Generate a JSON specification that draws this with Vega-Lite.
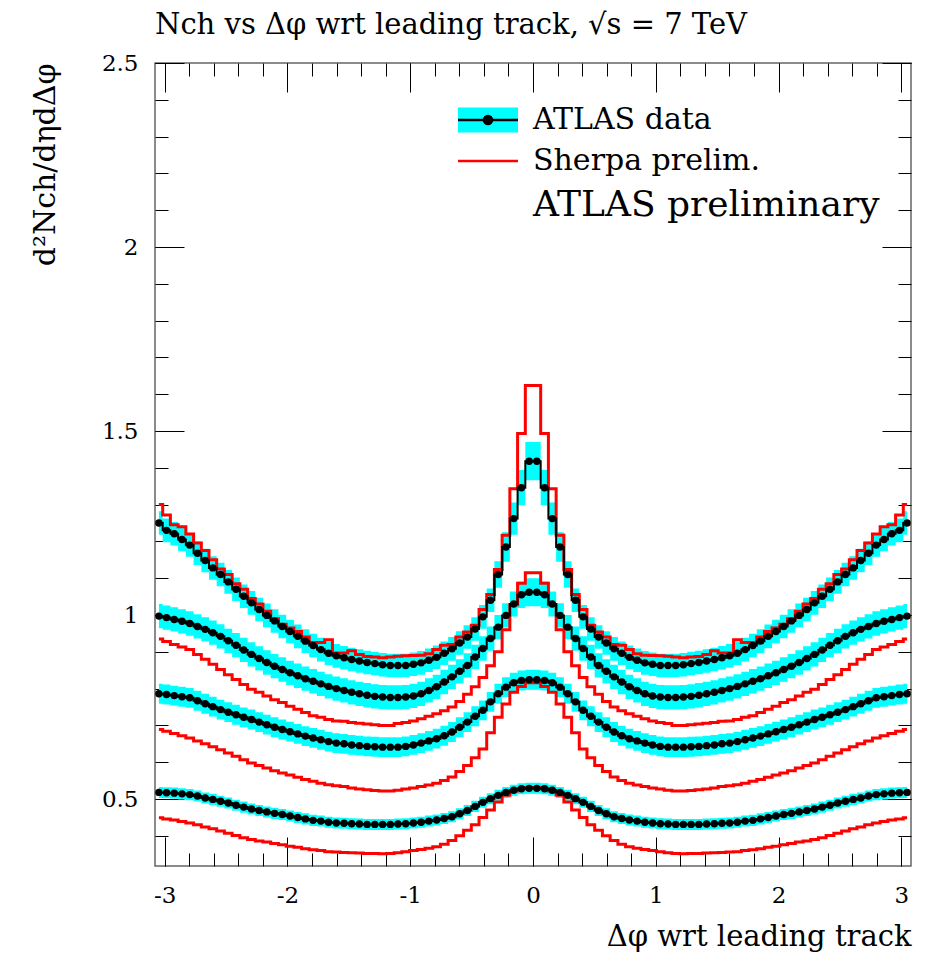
{
"$schema": "https://vega.github.io/schema/vega-lite/v6.json",
"width": 756, "height": 803,
"autosize": {"type": "none"},
"padding": {"left": 155, "top": 63, "right": 24, "bottom": 88},
"title": {"text": "Nch vs Δφ wrt leading track, √s = 7 TeV", "anchor": "start", "frame": "group", "font": "DejaVu Serif", "fontSize": 29, "fontWeight": "normal", "color": "black", "baseline": "alphabetic", "offset": 25, "dy": 36},
"data": {"values": [
{"x":-3.047,"d1":1.25,"d2":0.997,"d3":0.786,"d4":0.518,"s1":1.3,"s2":0.935,"s3":0.689,"s4":0.449,"e1":0.032,"e2":0.033,"e3":0.027,"e4":0.015},
{"x":-2.985,"d1":1.23,"d2":0.993,"d3":0.784,"d4":0.517,"s1":1.272,"s2":0.928,"s3":0.684,"s4":0.446,"e1":0.032,"e2":0.033,"e3":0.027,"e4":0.015},
{"x":-2.922,"d1":1.221,"d2":0.988,"d3":0.781,"d4":0.516,"s1":1.245,"s2":0.92,"s3":0.678,"s4":0.443,"e1":0.032,"e2":0.033,"e3":0.027,"e4":0.015},
{"x":-2.859,"d1":1.205,"d2":0.983,"d3":0.778,"d4":0.514,"s1":1.24,"s2":0.913,"s3":0.672,"s4":0.439,"e1":0.032,"e2":0.033,"e3":0.027,"e4":0.015},
{"x":-2.796,"d1":1.19,"d2":0.977,"d3":0.775,"d4":0.512,"s1":1.22,"s2":0.906,"s3":0.666,"s4":0.435,"e1":0.032,"e2":0.033,"e3":0.027,"e4":0.015},
{"x":-2.733,"d1":1.168,"d2":0.969,"d3":0.767,"d4":0.508,"s1":1.196,"s2":0.893,"s3":0.658,"s4":0.43,"e1":0.032,"e2":0.033,"e3":0.027,"e4":0.015},
{"x":-2.67,"d1":1.148,"d2":0.961,"d3":0.759,"d4":0.503,"s1":1.175,"s2":0.88,"s3":0.65,"s4":0.424,"e1":0.032,"e2":0.033,"e3":0.027,"e4":0.015},
{"x":-2.608,"d1":1.128,"d2":0.952,"d3":0.751,"d4":0.499,"s1":1.15,"s2":0.866,"s3":0.642,"s4":0.419,"e1":0.032,"e2":0.033,"e3":0.027,"e4":0.015},
{"x":-2.545,"d1":1.11,"d2":0.942,"d3":0.743,"d4":0.494,"s1":1.125,"s2":0.852,"s3":0.634,"s4":0.413,"e1":0.032,"e2":0.033,"e3":0.027,"e4":0.015},
{"x":-2.482,"d1":1.09,"d2":0.93,"d3":0.736,"d4":0.489,"s1":1.11,"s2":0.838,"s3":0.625,"s4":0.407,"e1":0.032,"e2":0.033,"e3":0.027,"e4":0.015},
{"x":-2.419,"d1":1.07,"d2":0.918,"d3":0.729,"d4":0.483,"s1":1.085,"s2":0.825,"s3":0.616,"s4":0.401,"e1":0.032,"e2":0.033,"e3":0.027,"e4":0.015},
{"x":-2.356,"d1":1.051,"d2":0.905,"d3":0.722,"d4":0.478,"s1":1.07,"s2":0.811,"s3":0.607,"s4":0.395,"e1":0.032,"e2":0.033,"e3":0.027,"e4":0.015},
{"x":-2.293,"d1":1.033,"d2":0.893,"d3":0.716,"d4":0.473,"s1":1.045,"s2":0.798,"s3":0.598,"s4":0.39,"e1":0.032,"e2":0.033,"e3":0.027,"e4":0.015},
{"x":-2.231,"d1":1.015,"d2":0.882,"d3":0.709,"d4":0.469,"s1":1.03,"s2":0.79,"s3":0.591,"s4":0.386,"e1":0.032,"e2":0.033,"e3":0.027,"e4":0.015},
{"x":-2.168,"d1":0.999,"d2":0.871,"d3":0.702,"d4":0.465,"s1":1.01,"s2":0.78,"s3":0.584,"s4":0.383,"e1":0.032,"e2":0.033,"e3":0.027,"e4":0.015},
{"x":-2.105,"d1":0.984,"d2":0.861,"d3":0.695,"d4":0.461,"s1":0.99,"s2":0.77,"s3":0.577,"s4":0.379,"e1":0.032,"e2":0.033,"e3":0.027,"e4":0.015},
{"x":-2.042,"d1":0.969,"d2":0.852,"d3":0.689,"d4":0.458,"s1":0.975,"s2":0.762,"s3":0.571,"s4":0.376,"e1":0.032,"e2":0.033,"e3":0.027,"e4":0.015},
{"x":-1.979,"d1":0.955,"d2":0.843,"d3":0.683,"d4":0.454,"s1":0.965,"s2":0.752,"s3":0.565,"s4":0.372,"e1":0.032,"e2":0.033,"e3":0.027,"e4":0.015},
{"x":-1.916,"d1":0.942,"d2":0.835,"d3":0.677,"d4":0.45,"s1":0.955,"s2":0.744,"s3":0.559,"s4":0.369,"e1":0.032,"e2":0.033,"e3":0.027,"e4":0.015},
{"x":-1.854,"d1":0.929,"d2":0.827,"d3":0.671,"d4":0.446,"s1":0.94,"s2":0.735,"s3":0.553,"s4":0.365,"e1":0.032,"e2":0.033,"e3":0.027,"e4":0.015},
{"x":-1.791,"d1":0.917,"d2":0.82,"d3":0.666,"d4":0.442,"s1":0.925,"s2":0.726,"s3":0.548,"s4":0.362,"e1":0.032,"e2":0.033,"e3":0.027,"e4":0.015},
{"x":-1.728,"d1":0.906,"d2":0.813,"d3":0.661,"d4":0.44,"s1":0.925,"s2":0.722,"s3":0.543,"s4":0.36,"e1":0.032,"e2":0.033,"e3":0.027,"e4":0.015},
{"x":-1.665,"d1":0.896,"d2":0.806,"d3":0.656,"d4":0.437,"s1":0.933,"s2":0.716,"s3":0.539,"s4":0.357,"e1":0.032,"e2":0.033,"e3":0.027,"e4":0.015},
{"x":-1.602,"d1":0.889,"d2":0.8,"d3":0.652,"d4":0.435,"s1":0.897,"s2":0.712,"s3":0.536,"s4":0.356,"e1":0.032,"e2":0.033,"e3":0.027,"e4":0.015},
{"x":-1.539,"d1":0.884,"d2":0.795,"d3":0.65,"d4":0.434,"s1":0.897,"s2":0.711,"s3":0.534,"s4":0.355,"e1":0.032,"e2":0.033,"e3":0.027,"e4":0.015},
{"x":-1.477,"d1":0.879,"d2":0.79,"d3":0.647,"d4":0.433,"s1":0.903,"s2":0.708,"s3":0.53,"s4":0.354,"e1":0.032,"e2":0.033,"e3":0.027,"e4":0.015},
{"x":-1.414,"d1":0.875,"d2":0.786,"d3":0.645,"d4":0.432,"s1":0.893,"s2":0.706,"s3":0.527,"s4":0.353,"e1":0.032,"e2":0.033,"e3":0.027,"e4":0.015},
{"x":-1.351,"d1":0.871,"d2":0.782,"d3":0.643,"d4":0.431,"s1":0.887,"s2":0.704,"s3":0.525,"s4":0.352,"e1":0.032,"e2":0.033,"e3":0.027,"e4":0.015},
{"x":-1.288,"d1":0.868,"d2":0.779,"d3":0.642,"d4":0.431,"s1":0.886,"s2":0.702,"s3":0.523,"s4":0.352,"e1":0.032,"e2":0.033,"e3":0.027,"e4":0.015},
{"x":-1.225,"d1":0.865,"d2":0.777,"d3":0.641,"d4":0.431,"s1":0.884,"s2":0.7,"s3":0.522,"s4":0.351,"e1":0.032,"e2":0.033,"e3":0.027,"e4":0.015},
{"x":-1.162,"d1":0.863,"d2":0.776,"d3":0.641,"d4":0.431,"s1":0.886,"s2":0.7,"s3":0.522,"s4":0.352,"e1":0.032,"e2":0.033,"e3":0.027,"e4":0.015},
{"x":-1.1,"d1":0.863,"d2":0.776,"d3":0.641,"d4":0.432,"s1":0.888,"s2":0.705,"s3":0.524,"s4":0.354,"e1":0.032,"e2":0.033,"e3":0.027,"e4":0.015},
{"x":-1.037,"d1":0.863,"d2":0.777,"d3":0.643,"d4":0.433,"s1":0.889,"s2":0.708,"s3":0.527,"s4":0.357,"e1":0.032,"e2":0.033,"e3":0.027,"e4":0.015},
{"x":-0.974,"d1":0.866,"d2":0.78,"d3":0.647,"d4":0.435,"s1":0.89,"s2":0.712,"s3":0.53,"s4":0.36,"e1":0.032,"e2":0.033,"e3":0.027,"e4":0.015},
{"x":-0.911,"d1":0.87,"d2":0.786,"d3":0.652,"d4":0.437,"s1":0.891,"s2":0.718,"s3":0.534,"s4":0.363,"e1":0.032,"e2":0.033,"e3":0.027,"e4":0.015},
{"x":-0.848,"d1":0.877,"d2":0.795,"d3":0.658,"d4":0.44,"s1":0.895,"s2":0.725,"s3":0.538,"s4":0.366,"e1":0.032,"e2":0.033,"e3":0.027,"e4":0.015},
{"x":-0.785,"d1":0.885,"d2":0.805,"d3":0.664,"d4":0.443,"s1":0.906,"s2":0.732,"s3":0.543,"s4":0.37,"e1":0.032,"e2":0.033,"e3":0.027,"e4":0.015},
{"x":-0.723,"d1":0.896,"d2":0.818,"d3":0.672,"d4":0.447,"s1":0.918,"s2":0.74,"s3":0.55,"s4":0.377,"e1":0.032,"e2":0.033,"e3":0.027,"e4":0.015},
{"x":-0.66,"d1":0.908,"d2":0.832,"d3":0.682,"d4":0.452,"s1":0.92,"s2":0.75,"s3":0.56,"s4":0.387,"e1":0.032,"e2":0.033,"e3":0.027,"e4":0.015},
{"x":-0.597,"d1":0.924,"d2":0.847,"d3":0.695,"d4":0.46,"s1":0.94,"s2":0.765,"s3":0.575,"s4":0.4,"e1":0.032,"e2":0.033,"e3":0.027,"e4":0.015},
{"x":-0.534,"d1":0.94,"d2":0.863,"d3":0.709,"d4":0.469,"s1":0.954,"s2":0.785,"s3":0.591,"s4":0.415,"e1":0.032,"e2":0.033,"e3":0.027,"e4":0.015},
{"x":-0.471,"d1":0.962,"d2":0.886,"d3":0.725,"d4":0.48,"s1":0.972,"s2":0.805,"s3":0.612,"s4":0.43,"e1":0.032,"e2":0.033,"e3":0.027,"e4":0.015},
{"x":-0.408,"d1":0.995,"d2":0.909,"d3":0.741,"d4":0.491,"s1":1.015,"s2":0.83,"s3":0.636,"s4":0.45,"e1":0.032,"e2":0.033,"e3":0.027,"e4":0.015},
{"x":-0.346,"d1":1.04,"d2":0.936,"d3":0.764,"d4":0.501,"s1":1.056,"s2":0.862,"s3":0.68,"s4":0.47,"e1":0.032,"e2":0.033,"e3":0.027,"e4":0.015},
{"x":-0.283,"d1":1.11,"d2":0.967,"d3":0.786,"d4":0.51,"s1":1.124,"s2":0.9,"s3":0.722,"s4":0.492,"e1":0.036,"e2":0.033,"e3":0.027,"e4":0.015},
{"x":-0.22,"d1":1.185,"d2":0.999,"d3":0.804,"d4":0.518,"s1":1.217,"s2":0.96,"s3":0.758,"s4":0.51,"e1":0.04,"e2":0.033,"e3":0.027,"e4":0.015},
{"x":-0.157,"d1":1.262,"d2":1.03,"d3":0.816,"d4":0.524,"s1":1.343,"s2":1.028,"s3":0.79,"s4":0.522,"e1":0.044,"e2":0.034,"e3":0.027,"e4":0.015},
{"x":-0.094,"d1":1.346,"d2":1.055,"d3":0.822,"d4":0.528,"s1":1.493,"s2":1.086,"s3":0.806,"s4":0.528,"e1":0.048,"e2":0.036,"e3":0.027,"e4":0.015},
{"x":-0.031,"d1":1.418,"d2":1.062,"d3":0.824,"d4":0.529,"s1":1.624,"s2":1.115,"s3":0.816,"s4":0.531,"e1":0.052,"e2":0.038,"e3":0.027,"e4":0.015},
{"x":0.031,"d1":1.418,"d2":1.062,"d3":0.824,"d4":0.529,"s1":1.624,"s2":1.115,"s3":0.816,"s4":0.531,"e1":0.052,"e2":0.038,"e3":0.027,"e4":0.015},
{"x":0.094,"d1":1.346,"d2":1.055,"d3":0.822,"d4":0.528,"s1":1.493,"s2":1.086,"s3":0.806,"s4":0.528,"e1":0.048,"e2":0.036,"e3":0.027,"e4":0.015},
{"x":0.157,"d1":1.262,"d2":1.03,"d3":0.816,"d4":0.524,"s1":1.343,"s2":1.028,"s3":0.79,"s4":0.522,"e1":0.044,"e2":0.034,"e3":0.027,"e4":0.015},
{"x":0.22,"d1":1.185,"d2":0.999,"d3":0.804,"d4":0.518,"s1":1.217,"s2":0.96,"s3":0.758,"s4":0.51,"e1":0.04,"e2":0.033,"e3":0.027,"e4":0.015},
{"x":0.283,"d1":1.11,"d2":0.967,"d3":0.786,"d4":0.51,"s1":1.124,"s2":0.9,"s3":0.722,"s4":0.492,"e1":0.036,"e2":0.033,"e3":0.027,"e4":0.015},
{"x":0.346,"d1":1.04,"d2":0.936,"d3":0.764,"d4":0.501,"s1":1.056,"s2":0.862,"s3":0.68,"s4":0.47,"e1":0.032,"e2":0.033,"e3":0.027,"e4":0.015},
{"x":0.408,"d1":0.995,"d2":0.909,"d3":0.741,"d4":0.491,"s1":1.015,"s2":0.83,"s3":0.636,"s4":0.45,"e1":0.032,"e2":0.033,"e3":0.027,"e4":0.015},
{"x":0.471,"d1":0.962,"d2":0.886,"d3":0.725,"d4":0.48,"s1":0.972,"s2":0.805,"s3":0.612,"s4":0.43,"e1":0.032,"e2":0.033,"e3":0.027,"e4":0.015},
{"x":0.534,"d1":0.94,"d2":0.863,"d3":0.709,"d4":0.469,"s1":0.954,"s2":0.785,"s3":0.591,"s4":0.415,"e1":0.032,"e2":0.033,"e3":0.027,"e4":0.015},
{"x":0.597,"d1":0.924,"d2":0.847,"d3":0.695,"d4":0.46,"s1":0.94,"s2":0.765,"s3":0.575,"s4":0.4,"e1":0.032,"e2":0.033,"e3":0.027,"e4":0.015},
{"x":0.66,"d1":0.908,"d2":0.832,"d3":0.682,"d4":0.452,"s1":0.92,"s2":0.75,"s3":0.56,"s4":0.387,"e1":0.032,"e2":0.033,"e3":0.027,"e4":0.015},
{"x":0.723,"d1":0.896,"d2":0.818,"d3":0.672,"d4":0.447,"s1":0.918,"s2":0.74,"s3":0.55,"s4":0.377,"e1":0.032,"e2":0.033,"e3":0.027,"e4":0.015},
{"x":0.785,"d1":0.885,"d2":0.805,"d3":0.664,"d4":0.443,"s1":0.906,"s2":0.732,"s3":0.543,"s4":0.37,"e1":0.032,"e2":0.033,"e3":0.027,"e4":0.015},
{"x":0.848,"d1":0.877,"d2":0.795,"d3":0.658,"d4":0.44,"s1":0.895,"s2":0.725,"s3":0.538,"s4":0.366,"e1":0.032,"e2":0.033,"e3":0.027,"e4":0.015},
{"x":0.911,"d1":0.87,"d2":0.786,"d3":0.652,"d4":0.437,"s1":0.891,"s2":0.718,"s3":0.534,"s4":0.363,"e1":0.032,"e2":0.033,"e3":0.027,"e4":0.015},
{"x":0.974,"d1":0.866,"d2":0.78,"d3":0.647,"d4":0.435,"s1":0.89,"s2":0.712,"s3":0.53,"s4":0.36,"e1":0.032,"e2":0.033,"e3":0.027,"e4":0.015},
{"x":1.037,"d1":0.863,"d2":0.777,"d3":0.643,"d4":0.433,"s1":0.889,"s2":0.708,"s3":0.527,"s4":0.357,"e1":0.032,"e2":0.033,"e3":0.027,"e4":0.015},
{"x":1.1,"d1":0.863,"d2":0.776,"d3":0.641,"d4":0.432,"s1":0.888,"s2":0.705,"s3":0.524,"s4":0.354,"e1":0.032,"e2":0.033,"e3":0.027,"e4":0.015},
{"x":1.162,"d1":0.863,"d2":0.776,"d3":0.641,"d4":0.431,"s1":0.886,"s2":0.7,"s3":0.522,"s4":0.352,"e1":0.032,"e2":0.033,"e3":0.027,"e4":0.015},
{"x":1.225,"d1":0.865,"d2":0.777,"d3":0.641,"d4":0.431,"s1":0.884,"s2":0.7,"s3":0.522,"s4":0.351,"e1":0.032,"e2":0.033,"e3":0.027,"e4":0.015},
{"x":1.288,"d1":0.868,"d2":0.779,"d3":0.642,"d4":0.431,"s1":0.886,"s2":0.702,"s3":0.523,"s4":0.352,"e1":0.032,"e2":0.033,"e3":0.027,"e4":0.015},
{"x":1.351,"d1":0.871,"d2":0.782,"d3":0.643,"d4":0.431,"s1":0.887,"s2":0.704,"s3":0.525,"s4":0.352,"e1":0.032,"e2":0.033,"e3":0.027,"e4":0.015},
{"x":1.414,"d1":0.875,"d2":0.786,"d3":0.645,"d4":0.432,"s1":0.893,"s2":0.706,"s3":0.527,"s4":0.353,"e1":0.032,"e2":0.033,"e3":0.027,"e4":0.015},
{"x":1.477,"d1":0.879,"d2":0.79,"d3":0.647,"d4":0.433,"s1":0.903,"s2":0.708,"s3":0.53,"s4":0.354,"e1":0.032,"e2":0.033,"e3":0.027,"e4":0.015},
{"x":1.539,"d1":0.884,"d2":0.795,"d3":0.65,"d4":0.434,"s1":0.897,"s2":0.711,"s3":0.534,"s4":0.355,"e1":0.032,"e2":0.033,"e3":0.027,"e4":0.015},
{"x":1.602,"d1":0.889,"d2":0.8,"d3":0.652,"d4":0.435,"s1":0.897,"s2":0.712,"s3":0.536,"s4":0.356,"e1":0.032,"e2":0.033,"e3":0.027,"e4":0.015},
{"x":1.665,"d1":0.896,"d2":0.806,"d3":0.656,"d4":0.437,"s1":0.933,"s2":0.716,"s3":0.539,"s4":0.357,"e1":0.032,"e2":0.033,"e3":0.027,"e4":0.015},
{"x":1.728,"d1":0.906,"d2":0.813,"d3":0.661,"d4":0.44,"s1":0.925,"s2":0.722,"s3":0.543,"s4":0.36,"e1":0.032,"e2":0.033,"e3":0.027,"e4":0.015},
{"x":1.791,"d1":0.917,"d2":0.82,"d3":0.666,"d4":0.442,"s1":0.925,"s2":0.726,"s3":0.548,"s4":0.362,"e1":0.032,"e2":0.033,"e3":0.027,"e4":0.015},
{"x":1.854,"d1":0.929,"d2":0.827,"d3":0.671,"d4":0.446,"s1":0.94,"s2":0.735,"s3":0.553,"s4":0.365,"e1":0.032,"e2":0.033,"e3":0.027,"e4":0.015},
{"x":1.916,"d1":0.942,"d2":0.835,"d3":0.677,"d4":0.45,"s1":0.955,"s2":0.744,"s3":0.559,"s4":0.369,"e1":0.032,"e2":0.033,"e3":0.027,"e4":0.015},
{"x":1.979,"d1":0.955,"d2":0.843,"d3":0.683,"d4":0.454,"s1":0.965,"s2":0.752,"s3":0.565,"s4":0.372,"e1":0.032,"e2":0.033,"e3":0.027,"e4":0.015},
{"x":2.042,"d1":0.969,"d2":0.852,"d3":0.689,"d4":0.458,"s1":0.975,"s2":0.762,"s3":0.571,"s4":0.376,"e1":0.032,"e2":0.033,"e3":0.027,"e4":0.015},
{"x":2.105,"d1":0.984,"d2":0.861,"d3":0.695,"d4":0.461,"s1":0.99,"s2":0.77,"s3":0.577,"s4":0.379,"e1":0.032,"e2":0.033,"e3":0.027,"e4":0.015},
{"x":2.168,"d1":0.999,"d2":0.871,"d3":0.702,"d4":0.465,"s1":1.01,"s2":0.78,"s3":0.584,"s4":0.383,"e1":0.032,"e2":0.033,"e3":0.027,"e4":0.015},
{"x":2.231,"d1":1.015,"d2":0.882,"d3":0.709,"d4":0.469,"s1":1.03,"s2":0.79,"s3":0.591,"s4":0.386,"e1":0.032,"e2":0.033,"e3":0.027,"e4":0.015},
{"x":2.293,"d1":1.033,"d2":0.893,"d3":0.716,"d4":0.473,"s1":1.045,"s2":0.798,"s3":0.598,"s4":0.39,"e1":0.032,"e2":0.033,"e3":0.027,"e4":0.015},
{"x":2.356,"d1":1.051,"d2":0.905,"d3":0.722,"d4":0.478,"s1":1.07,"s2":0.811,"s3":0.607,"s4":0.395,"e1":0.032,"e2":0.033,"e3":0.027,"e4":0.015},
{"x":2.419,"d1":1.07,"d2":0.918,"d3":0.729,"d4":0.483,"s1":1.085,"s2":0.825,"s3":0.616,"s4":0.401,"e1":0.032,"e2":0.033,"e3":0.027,"e4":0.015},
{"x":2.482,"d1":1.09,"d2":0.93,"d3":0.736,"d4":0.489,"s1":1.11,"s2":0.838,"s3":0.625,"s4":0.407,"e1":0.032,"e2":0.033,"e3":0.027,"e4":0.015},
{"x":2.545,"d1":1.11,"d2":0.942,"d3":0.743,"d4":0.494,"s1":1.125,"s2":0.852,"s3":0.634,"s4":0.413,"e1":0.032,"e2":0.033,"e3":0.027,"e4":0.015},
{"x":2.608,"d1":1.128,"d2":0.952,"d3":0.751,"d4":0.499,"s1":1.15,"s2":0.866,"s3":0.642,"s4":0.419,"e1":0.032,"e2":0.033,"e3":0.027,"e4":0.015},
{"x":2.67,"d1":1.148,"d2":0.961,"d3":0.759,"d4":0.503,"s1":1.175,"s2":0.88,"s3":0.65,"s4":0.424,"e1":0.032,"e2":0.033,"e3":0.027,"e4":0.015},
{"x":2.733,"d1":1.168,"d2":0.969,"d3":0.767,"d4":0.508,"s1":1.196,"s2":0.893,"s3":0.658,"s4":0.43,"e1":0.032,"e2":0.033,"e3":0.027,"e4":0.015},
{"x":2.796,"d1":1.19,"d2":0.977,"d3":0.775,"d4":0.512,"s1":1.22,"s2":0.906,"s3":0.666,"s4":0.435,"e1":0.032,"e2":0.033,"e3":0.027,"e4":0.015},
{"x":2.859,"d1":1.205,"d2":0.983,"d3":0.778,"d4":0.514,"s1":1.24,"s2":0.913,"s3":0.672,"s4":0.439,"e1":0.032,"e2":0.033,"e3":0.027,"e4":0.015},
{"x":2.922,"d1":1.221,"d2":0.988,"d3":0.781,"d4":0.516,"s1":1.245,"s2":0.92,"s3":0.678,"s4":0.443,"e1":0.032,"e2":0.033,"e3":0.027,"e4":0.015},
{"x":2.985,"d1":1.23,"d2":0.993,"d3":0.784,"d4":0.517,"s1":1.272,"s2":0.928,"s3":0.684,"s4":0.446,"e1":0.032,"e2":0.033,"e3":0.027,"e4":0.015},
{"x":3.047,"d1":1.25,"d2":0.997,"d3":0.786,"d4":0.518,"s1":1.3,"s2":0.935,"s3":0.689,"s4":0.449,"e1":0.032,"e2":0.033,"e3":0.027,"e4":0.015}
]},
"resolve": {"axis": {"x": "independent", "y": "independent"}},
"layer": [
{"mark": {"type": "errorband", "interpolate": "step", "band": {"opacity": 1}},
 "encoding": {
  "x": {"field": "x", "type": "quantitative", "scale": {"domain": [-3.0788, 3.0788], "nice": false, "zero": false},
   "axis": {"orient": "bottom", "values": [-3,-2,-1,0,1,2,3], "tickSize": -29, "labelPadding": 47, "labelFontSize": 23, "labelExpr": "'' + datum.value", "labelFlush": false, "labelOverlap": false,
    "title": "Δφ wrt leading track", "titleFontSize": 29, "titleAnchor": "end", "titleAlign": "right", "titleBaseline": "alphabetic", "titleX": 756, "titleY": 79}},
  "y": {"field": "d1", "type": "quantitative", "scale": {"domain": [0.318, 2.5], "nice": false, "zero": false},
   "axis": {"orient": "left", "values": [0.5,1,1.5,2,2.5], "tickSize": -29, "labelPadding": 46, "labelFontSize": 23, "labelExpr": "'' + datum.value", "labelFlush": false, "labelOverlap": false,
    "title": "d²Nch/dηdΔφ", "titleFontSize": 30, "titleAngle": 270, "titleAlign": "right", "titleBaseline": "middle", "titleX": -110, "titleY": 0}},
  "yError": {"field": "e1"},
  "color": {"datum": "ATLAS data", "scale": {"domain": ["ATLAS data"], "range": ["#00ffff"]},
   "legend": {"orient": "none", "legendX": 318, "legendY": 42, "title": null, "symbolType": "M-6,-2.5H6V2.5H-6Z", "symbolSize": 100, "symbolOpacity": 1, "symbolStrokeWidth": 0, "labelFontSize": 30, "labelOpacity": 0, "labelOffset": 30, "labelLimit": 0}}
 }},
{"mark": {"type": "errorband", "interpolate": "step", "band": {"opacity": 1}},
 "encoding": {
  "x": {"field": "x", "type": "quantitative", "axis": {"orient": "bottom", "values": [-3,-2.8,-2.6,-2.4,-2.2,-2,-1.8,-1.6,-1.4,-1.2,-1,-0.8,-0.6,-0.4,-0.2,0,0.2,0.4,0.6,0.8,1,1.2,1.4,1.6,1.8,2,2.2,2.4,2.6,2.8,3], "tickSize": -13, "labels": false, "title": null}},
  "y": {"field": "d2", "type": "quantitative", "axis": {"orient": "left", "values": [0.4,0.5,0.6,0.7,0.8,0.9,1,1.1,1.2,1.3,1.4,1.5,1.6,1.7,1.8,1.9,2,2.1,2.2,2.3,2.4,2.5], "tickSize": -13, "labels": false, "title": null}},
  "yError": {"field": "e2"},
  "color": {"datum": "ATLAS data"}
 }},
{"mark": {"type": "errorband", "interpolate": "step", "band": {"opacity": 1}},
 "encoding": {
  "x": {"field": "x", "type": "quantitative", "axis": {"orient": "top", "values": [-3,-2,-1,0,1,2,3], "tickSize": -29, "labels": false, "title": null}},
  "y": {"field": "d3", "type": "quantitative", "axis": {"orient": "right", "values": [0.5,1,1.5,2,2.5], "tickSize": -29, "labels": false, "title": null}},
  "yError": {"field": "e3"},
  "color": {"datum": "ATLAS data"}
 }},
{"mark": {"type": "errorband", "interpolate": "step", "band": {"opacity": 1}},
 "encoding": {
  "x": {"field": "x", "type": "quantitative", "axis": {"orient": "top", "values": [-3,-2.8,-2.6,-2.4,-2.2,-2,-1.8,-1.6,-1.4,-1.2,-1,-0.8,-0.6,-0.4,-0.2,0,0.2,0.4,0.6,0.8,1,1.2,1.4,1.6,1.8,2,2.2,2.4,2.6,2.8,3], "tickSize": -13, "labels": false, "title": null}},
  "y": {"field": "d4", "type": "quantitative", "axis": {"orient": "right", "values": [0.4,0.5,0.6,0.7,0.8,0.9,1,1.1,1.2,1.3,1.4,1.5,1.6,1.7,1.8,1.9,2,2.1,2.2,2.3,2.4,2.5], "tickSize": -13, "labels": false, "title": null}},
  "yError": {"field": "e4"},
  "color": {"datum": "ATLAS data"}
 }},
{"transform": [{"fold": ["s1","s2","s3","s4"], "as": ["k","v"]}],
 "mark": {"type": "line", "interpolate": "step", "strokeWidth": 3},
 "encoding": {
  "x": {"field": "x", "type": "quantitative", "axis": null},
  "y": {"field": "v", "type": "quantitative", "axis": null},
  "detail": {"field": "k"},
  "stroke": {"datum": "Sherpa prelim.", "scale": {"domain": ["ATLAS data", "Sherpa prelim."], "range": ["black", "#ff0000"]},
   "legend": {"orient": "none", "legendX": 318, "legendY": 42, "title": "ATLAS preliminary", "titleOrient": "bottom", "titleFontSize": 36, "titleFontWeight": "normal", "titleColor": "black", "titlePadding": 12, "titleLimit": 0,
    "symbolType": "M-6,0H6", "symbolSize": 100, "symbolStrokeWidth": 2.5, "labelFontSize": 30, "labelOffset": 30, "labelLimit": 0, "rowPadding": 11, "labelColor": "black",
    "encode": {"symbols": {"update": {"shape": {"signal": "datum.value === 'ATLAS data' ? 'M-6,0H6M0.8,0A0.8,0.8,0,1,1,-0.8,0A0.8,0.8,0,1,1,0.8,0' : 'M-6,0H6'"}, "fill": {"signal": "datum.value === 'ATLAS data' ? 'black' : 'transparent'"}}}, "title": {"update": {"dx": {"value": 60}}}}}}
 }},
{"transform": [{"fold": ["d1","d2","d3","d4"], "as": ["k","v"]}],
 "mark": {"type": "line", "interpolate": "step", "strokeWidth": 2},
 "encoding": {
  "x": {"field": "x", "type": "quantitative", "axis": null},
  "y": {"field": "v", "type": "quantitative", "axis": null},
  "detail": {"field": "k"},
  "stroke": {"datum": "ATLAS data"}
 }},
{"transform": [{"fold": ["d1","d2","d3","d4"], "as": ["k","v"]}],
 "mark": {"type": "circle", "size": 55, "color": "black", "opacity": 1},
 "encoding": {
  "x": {"field": "x", "type": "quantitative", "axis": null},
  "y": {"field": "v", "type": "quantitative", "axis": null}
 }}
],
"config": {
 "font": "DejaVu Serif",
 "view": {"stroke": "#666666", "strokeWidth": 1.5},
 "axis": {"grid": false, "domain": false, "tickColor": "black", "tickWidth": 1, "labelColor": "black", "titleColor": "black", "labelFont": "DejaVu Serif", "titleFont": "DejaVu Serif", "titleFontWeight": "normal"},
 "legend": {"labelFont": "DejaVu Serif", "titleFont": "DejaVu Serif"}
}
}
